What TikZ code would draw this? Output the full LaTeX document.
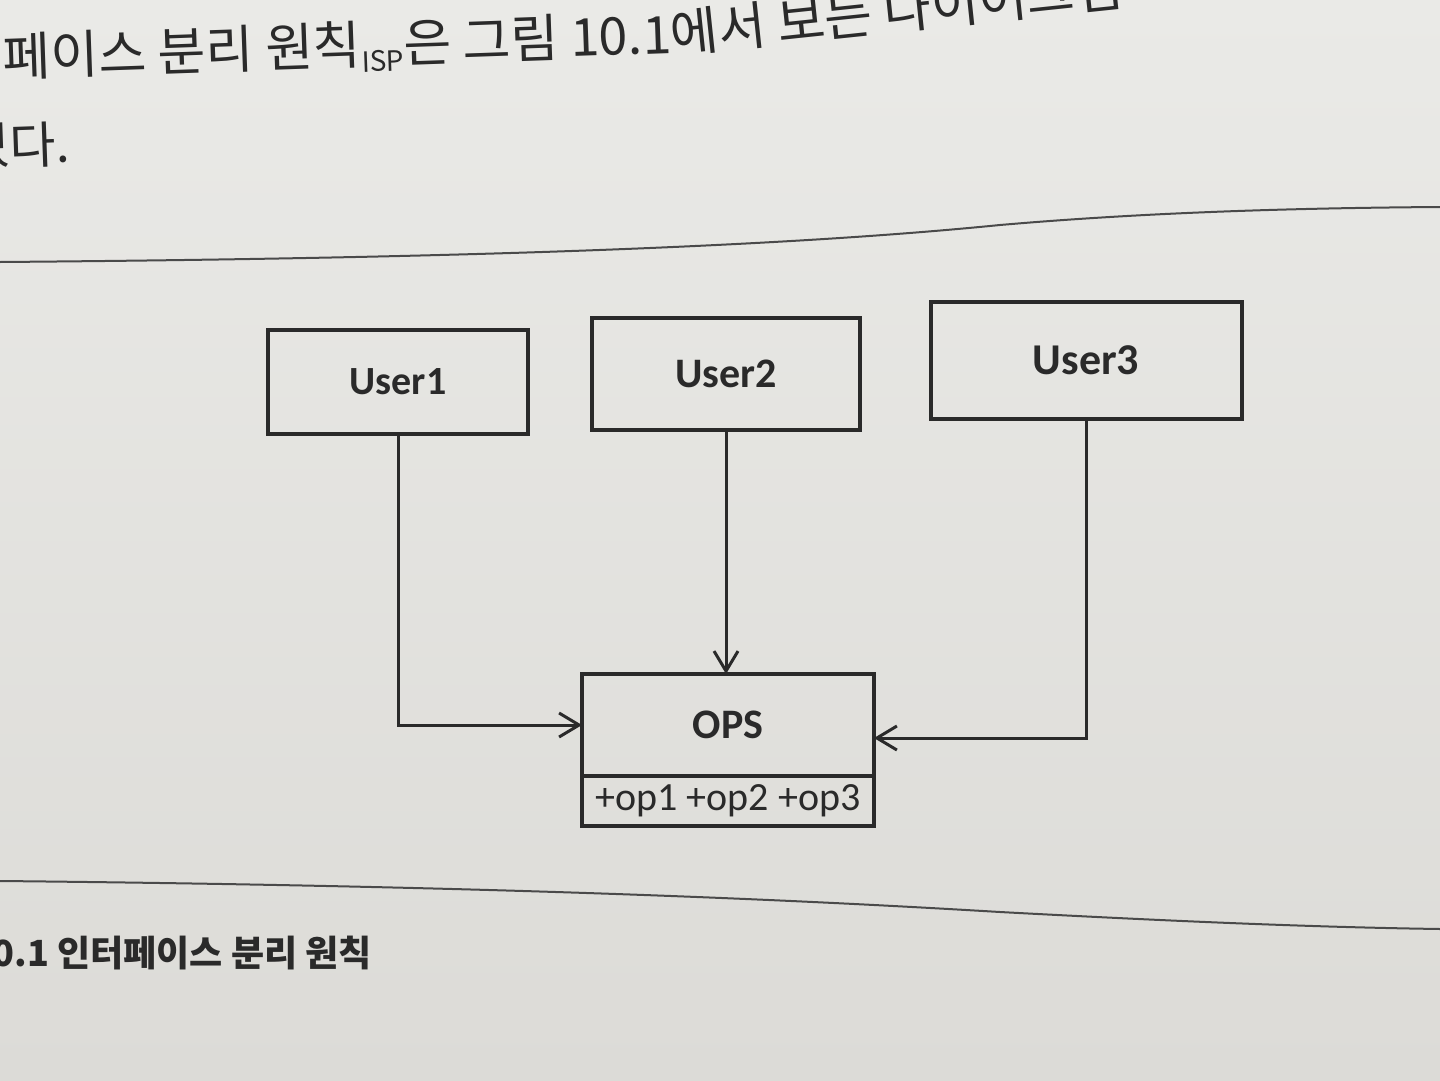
\documentclass[tikz,border=0pt]{standalone}
\usepackage{fontspec}
\setmainfont{Carlito}
\newfontfamily\kr{Noto Sans CJK KR}
\usetikzlibrary{arrows.meta}
\definecolor{ink}{RGB}{42,42,42}
\definecolor{papertop}{RGB}{234,234,231}
\definecolor{paperbot}{RGB}{220,219,215}
\tikzset{
  box/.style={draw=ink, line width=4pt, rectangle, inner sep=0pt, outer sep=0pt, text=ink},
  conn/.style={draw=ink, line width=3pt, -{Straight Barb[length=20pt,width=24pt]}},
  rule/.style={draw=ink!85, line width=2pt},
  bodytext/.style={text=ink, inner sep=0pt, rotate=2},
}
\begin{document}
\begin{tikzpicture}[x=1pt,y=-1pt]
\useasboundingbox (0,0) rectangle (1440,1081);
\clip (0,0) rectangle (1440,1081);
\shade[top color=papertop, bottom color=paperbot] (0,0) rectangle (1440,1081);

% running text
\node[bodytext, anchor=base west, font=\kr\fontsize{52}{56}\selectfont] (t1) at (-92,80)
  {인터페이스 분리 원칙\raisebox{-8pt}{\fontsize{28}{30}\selectfont ISP}은 그림 10.1};
\node[text=ink, inner sep=0pt, rotate=6, anchor=base west, font=\kr\fontsize{52}{56}\selectfont] (t1b) at (t1.base east)
  {에서 보는 다이어그램};
\node[bodytext, anchor=base west, font=\kr\fontsize{50}{54}\selectfont] (t2) at (-36,166) {었다.};

% rules
\draw[rule] (0,262) .. controls (500,258) and (800,245) .. (1000,225) .. controls (1150,212) and (1300,208) .. (1440,207);
\draw[rule] (0,881) .. controls (500,886) and (800,900) .. (1000,912) .. controls (1150,920) and (1300,927) .. (1440,929);

% diagram
\node[box, minimum width=260pt, minimum height=104pt, font=\bfseries\fontsize{40}{44}\selectfont] (u1) at (398,382) {User1};
\node[box, minimum width=268pt, minimum height=112pt, font=\bfseries\fontsize{42}{46}\selectfont] (u2) at (726,374) {User2};
\node[box, minimum width=311pt, minimum height=117pt, font=\bfseries\fontsize{44}{48}\selectfont] (u3) at (1086,360) {User3};
\node[box, minimum width=292pt, minimum height=102pt, font=\bfseries\fontsize{42}{46}\selectfont] (ops) at (728,725) {OPS};
\node[box, minimum width=292pt, minimum height=50pt, font=\fontsize{40}{44}\selectfont, anchor=north] (opl) at (ops.south) {+op1 +op2 +op3};

\draw[conn] (u1.south) |- (ops.west);
\draw[conn] (u2.south) -- (u2.south |- ops.north);
\coordinate (e3) at ([yshift=-13pt]ops.east);
\draw[conn] (u3.south) |- (e3);

% caption
\node[anchor=base east, inner sep=0pt, text=ink, font=\kr\bfseries\fontsize{36}{39}\selectfont] (cap) at (372,966)
  {그림 10.1 인터페이스 분리 원칙};
\end{tikzpicture}
\end{document}
